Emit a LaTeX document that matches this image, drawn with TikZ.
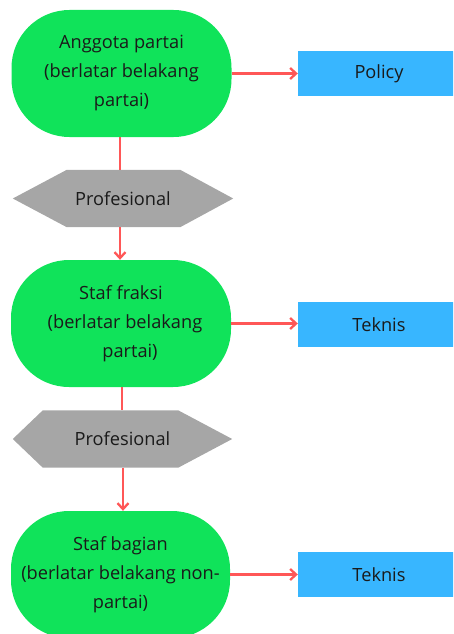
\documentclass[tikz,border=0pt]{standalone}
\usepackage{fontspec}
\setmainfont{Open Sans}
\usetikzlibrary{arrows.meta}
\definecolor{ngreen}{HTML}{10E35A}
\definecolor{nblue}{HTML}{38B6FF}
\definecolor{ngray}{HTML}{A6A6A6}
\definecolor{nred}{HTML}{FF5757}
\definecolor{ntext}{HTML}{1A1A1A}
\begin{document}
\begin{tikzpicture}[x=1pt,y=-1pt,
  every node/.style={font=\fontsize{18.2}{29}\selectfont, text=ntext, inner sep=0pt, align=center},
  pill/.style={rectangle, rounded corners=58pt, fill=ngreen, minimum width=220pt, minimum height=127pt},
  bluebox/.style={rectangle, fill=nblue, minimum width=162pt, minimum height=45pt},
  hexnode/.style={rectangle, minimum height=57pt},
  conn/.style={draw=nred, line width=2.3pt},
  arr/.style={conn, -{Straight Barb[length=6pt,width=11pt,line width=2.3pt]}}
]
\useasboundingbox (0,0) rectangle (453,634);
\clip (0,0) rectangle (453,634);

% nodes
\node[pill] (n1) at (121.5,73.5) {Anggota partai\\(berlatar belakang\\partai)};
\node[bluebox] (p1) at (379,73.5) {Policy};

\node[hexnode, minimum width=220pt] (h1) at (123,198.5) {};
\fill[ngray] (h1.west) -- ([xshift=54pt]h1.north west) -- ([xshift=-53pt]h1.north east) -- (h1.east) -- ([xshift=-53pt]h1.south east) -- ([xshift=54pt]h1.south west) -- cycle;
\node at (h1) {Profesional};

\node[pill] (n2) at (121,323.5) {Staf fraksi\\\hspace*{8pt}(berlatar belakang\\\hspace*{18pt}partai)};
\node[bluebox] (t1) at (379,324.5) {Teknis};

\node[hexnode, minimum width=219pt] (h2) at (122.5,439) {};
\fill[ngray] (h2.west) -- ([xshift=30pt]h2.north west) -- ([xshift=-54pt]h2.north east) -- (h2.east) -- ([xshift=-54pt]h2.south east) -- ([xshift=30pt]h2.south west) -- cycle;
\node at (h2) {Profesional};

\node[pill, minimum width=219pt] (n3) at (120.5,574.5) {Staf bagian\\(berlatar belakang non-\\partai)};
\node[bluebox] (t2) at (379,574.5) {Teknis};

% connectors
\draw[arr] (n1.east) -- (p1.west);
\draw[conn] ([xshift=-1.5pt]n1.south) -- ([xshift=-1.5pt]n1.south |- h1.north);
\draw[arr] ([xshift=-3pt]h1.south) -- ([xshift=-3pt]h1.south |- n2.north);
\draw[arr] (n2.east) -- (n2.east -| t1.west);
\draw[conn] ([xshift=1pt]n2.south) -- ([xshift=1pt]n2.south |- h2.north);
\draw[arr] ([xshift=0.5pt]h2.south) -- ([xshift=0.5pt]h2.south |- n3.north);
\draw[arr] (n3.east) -- (n3.east -| t2.west);
\end{tikzpicture}
\end{document}
